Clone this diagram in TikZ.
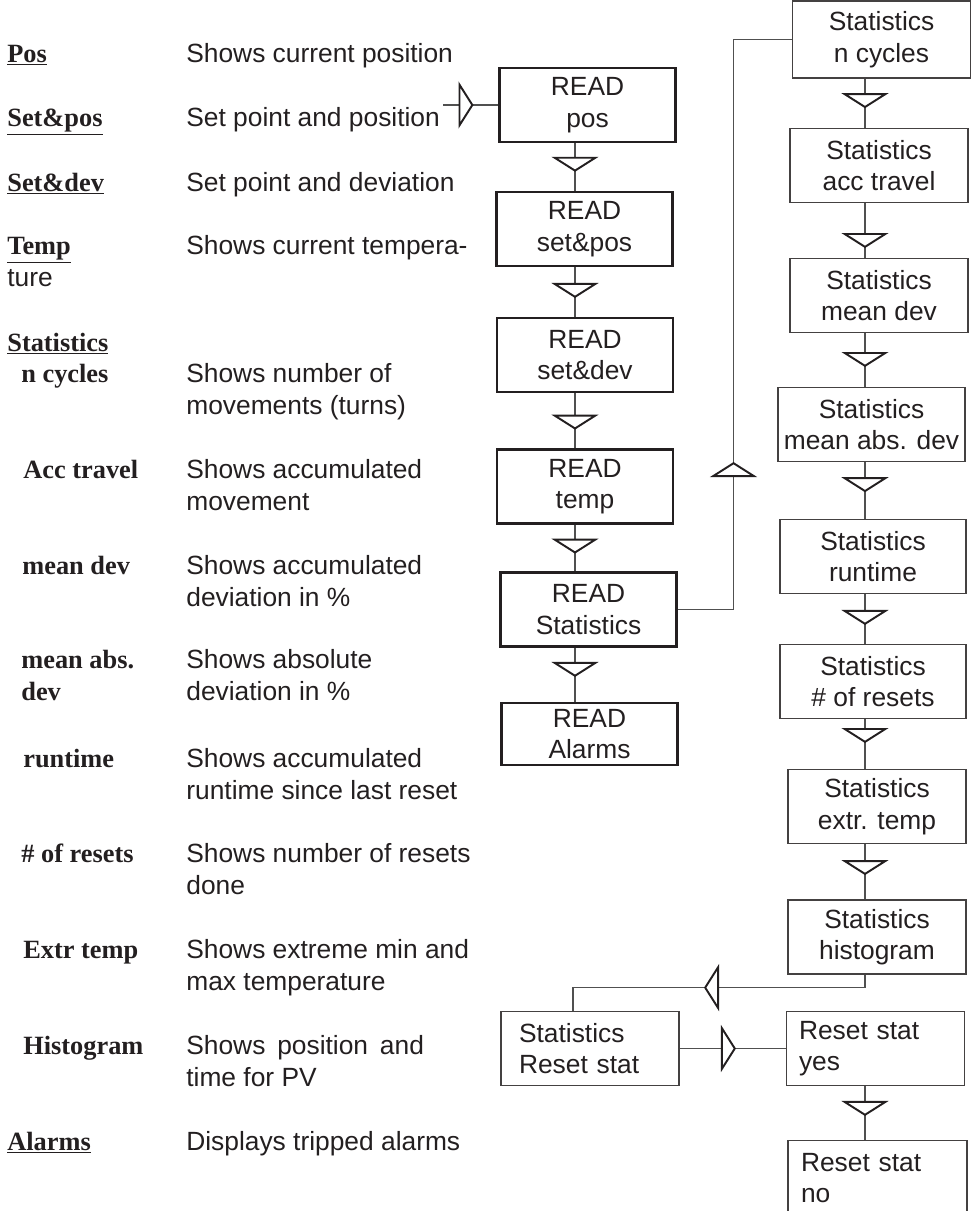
\documentclass[tikz,border=0pt]{standalone}
\usepackage{fontspec}
\setmainfont{Liberation Sans}
\newfontfamily\keyfont{Liberation Serif}
\usetikzlibrary{arrows.meta,decorations.markings}
\definecolor{ink}{HTML}{231F20}
\definecolor{wire}{HTML}{505050}

\begin{document}
\begin{tikzpicture}[
  x=0.02cm, y=-0.02cm,
  font=\fontsize{15}{18}\selectfont, text=ink,
  key/.style={anchor=base west, inner sep=0pt, align=left,
              font=\fontsize{15}{18}\selectfont\keyfont\bfseries},
  desc/.style={anchor=base west, inner sep=0pt, align=left},
  readbox/.style={draw=ink, line width=1.2pt, align=center, inner sep=0pt,
                  minimum width=3.52cm, minimum height=1.48cm},
  statbox/.style={draw=ink!85, line width=0.7pt, align=center, inner sep=0pt,
                  minimum width=3.56cm, minimum height=1.48cm},
  link/.style={draw=wire, line width=0.6pt},
  tri/.style={postaction={decorate, decoration={markings, mark=at position #1 with
              {\arrow{Triangle[width=0.94cm, length=0.3cm, line width=1.1pt, color=ink, fill=white]}}}}},
]
\useasboundingbox (0,0) rectangle (973,1211);

\node[key] (kpos) at (7,62) {\underline{Pos}};
\node[desc] (dpos) at (186,62) {Shows current position};
\node[key] (ksetpos) at (7,126) {\underline{Set\&pos}};
\node[desc] (dsetpos) at (186,126) {Set point and position};
\node[key] (ksetdev) at (7,191) {\underline{Set\&dev}};
\node[desc] (dsetdev) at (186,191) {Set point and deviation};
\node[key] (ktemp) at (7,286) {\underline{Temp}\\{\normalfont\mdseries ture}};
\node[desc] (dtemp) at (186,254) {Shows current tempera-};
\node[key] (kstat) at (7,351) {\underline{Statistics}};
\node[key] (kcyc) at (21,382) {n cycles};
\node[desc] (dcyc) at (186,414) {Shows number of\\movements (turns)};
\node[key] (kacc) at (23,478) {Acc travel};
\node[desc] (dacc) at (186,510) {Shows accumulated\\movement};
\node[key] (kmean) at (22,574) {mean dev};
\node[desc] (dmean) at (186,606) {Shows accumulated\\deviation in \%};
\node[key] (kabs) at (21,700) {mean abs.\\dev};
\node[desc] (dabs) at (186,700) {Shows absolute\\deviation in \%};
\node[key] (krun) at (23,767) {runtime};
\node[desc] (drun) at (186,799) {Shows accumulated\\runtime since last reset};
\node[key] (kres) at (21,862) {\# of resets};
\node[desc] (dres) at (186,894) {Shows number of resets\\done};
\node[key] (kextr) at (23,958) {Extr temp};
\node[desc] (dextr) at (186,990) {Shows extreme min and\\max temperature};
\node[key] (khist) at (23,1054) {Histogram};
\node[desc] (dhist) at (186,1086) {Shows\hspace{0.45em}position\hspace{0.45em}and\\time for PV};
\node[key] (kalarm) at (7,1150) {\underline{Alarms}};
\node[desc] (dalarm) at (186,1150) {Displays tripped alarms};

\node[readbox] (rpos) at (587.5,105) {READ\\pos};
\node[readbox] (rsetpos) at (584.5,229) {READ\\set\&pos};
\node[readbox] (rsetdev) at (585,355) {READ\\set\&dev};
\node[readbox] (rtemp) at (585,486.5) {READ\\temp};
\node[readbox] (rstat) at (588.5,609.5) {READ\\Statistics};
\node[readbox, minimum height=1.24cm] (ralarm) at (589.5,734) {READ\\Alarms};

\node[statbox, minimum height=1.54cm] (s1) at (881.5,39.5) {Statistics\\n cycles};
\node[statbox] (s2) at (879,165.5) {Statistics\\acc travel};
\node[statbox] (s3) at (879,295.5) {Statistics\\mean dev};
\node[statbox, minimum width=3.74cm] (s4) at (871.5,424.5) {Statistics\\mean abs. dev};
\node[statbox, minimum width=3.72cm] (s5) at (873,556.5) {Statistics\\runtime};
\node[statbox, minimum width=3.72cm] (s6) at (873,681.5) {Statistics\\\# of resets};
\node[statbox] (s7) at (877,806.5) {Statistics\\extr. temp};
\node[statbox] (s8) at (877,937) {Statistics\\histogram};

\node[statbox, align=left, inner xsep=0.34cm, text width=2.84cm] (rreset) at (590,1048.5) {Statistics\\Reset stat};
\node[statbox, align=left, inner xsep=0.24cm, text width=3.06cm] (ryes) at (875.5,1048.5) {Reset stat\\yes};
\node[statbox, draw=none, align=left, inner xsep=0.24cm, text width=3.06cm] (rno) at (877.5,1178) {Reset stat\\no};
\draw[draw=ink!85, line width=0.7pt] (rno.south west) -- (rno.north west) -- (rno.north east) -- (rno.south east);

\coordinate (lcol) at (575,0);
\coordinate (rcol) at (865,0);
\coordinate (in) at (443,105);

\draw[link, tri=0.55] (in) -- (rpos.west);
\foreach \a/\b/\p in {rpos/rsetpos/0.6, rsetpos/rsetdev/0.62, rsetdev/rtemp/0.66,
                      rtemp/rstat/0.62, rstat/ralarm/0.54}
  \draw[link, tri=\p] (\a.south -| lcol) -- (\b.north -| lcol);
\foreach \a/\b/\p in {s1/s2/0.6, s2/s3/0.82, s3/s4/0.63, s4/s5/0.53, s5/s6/0.62,
                      s6/s7/0.48, s7/s8/0.56, ryes/rno/0.55}
  \draw[link, tri=\p] (\a.south -| rcol) -- (\b.north -| rcol);
\draw[link, tri=4.07cm] (rstat.east) -- ++(56,0) |- (s1.west);
\draw[link, tri=3.48cm] (s8.south -| rcol) -- ++(0,13) -| ([xshift=-0.34cm]rreset.north);
\draw[link, tri=0.53] (rreset.east) -- (ryes.west);
\end{tikzpicture}
\end{document}
